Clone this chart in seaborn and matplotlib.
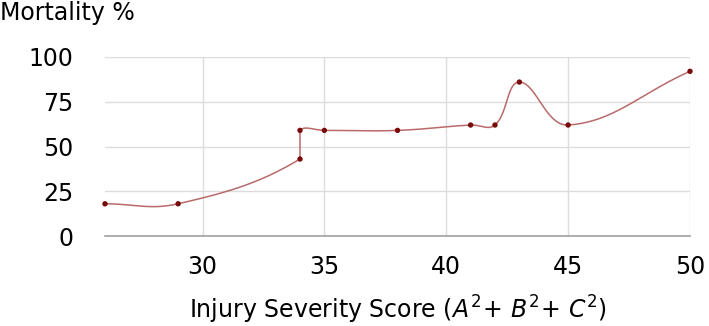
import numpy as np
import matplotlib
matplotlib.use("Agg")
import matplotlib.pyplot as plt
import seaborn as sns

# values
iss = [26, 29, 34, 34, 35, 38, 41, 42, 43, 45, 50]
mortality = [18, 18, 43, 59, 59, 59, 62, 62, 86, 62, 92]
x_ticks = [30, 35, 40, 45, 50]
y_ticks = [0, 25, 50, 75, 100]


def spline_path(xs, ys, sx, sy, tension=0.4, steps=40):
    """
    Smooth curve through the points (Chart.js style control points),
    computed in pixel-like units so the shape matches the chart aspect.
    Segments with the same x are drawn straight.
    """
    P = np.column_stack([np.asarray(xs, float) * sx, np.asarray(ys, float) * sy])
    n = len(P)
    cp_prev = P.copy()
    cp_next = P.copy()
    for i in range(n):
        prev = P[i - 1] if i > 0 else P[i]
        nxt = P[i + 1] if i < n - 1 else P[i]
        d01 = np.hypot(*(P[i] - prev))
        d12 = np.hypot(*(nxt - P[i]))
        tot = d01 + d12
        s01 = d01 / tot if tot else 0
        s12 = d12 / tot if tot else 0
        cp_prev[i] = P[i] - tension * s01 * (nxt - prev)
        cp_next[i] = P[i] + tension * s12 * (nxt - prev)
    t = np.linspace(0, 1, steps)[:, None]
    segs = []
    for i in range(n - 1):
        if xs[i] == xs[i + 1]:
            segs.append(P[i] + t * (P[i + 1] - P[i]))
            continue
        b = ((1 - t) ** 3 * P[i] + 3 * (1 - t) ** 2 * t * cp_next[i]
             + 3 * (1 - t) * t ** 2 * cp_prev[i + 1] + t ** 3 * P[i + 1])
        segs.append(b)
    path = np.vstack(segs)
    return path[:, 0] / sx, path[:, 1] / sy


sns.set_style("white")
plt.rcParams['font.family'] = ['DejaVu Sans']
plt.rcParams['mathtext.fontset'] = 'dejavusans'
plt.rcParams['text.color'] = 'black'
plt.rcParams['axes.labelcolor'] = 'black'

fig = plt.figure(figsize=(7.09, 3.26), dpi=100)
ax = fig.add_axes([105 / 709, 1 - 236 / 326, 585 / 709, 179 / 326])

ax.set_xlim(26, 50)
ax.set_ylim(0, 100)

# pixel scale per data unit
sx = 585 / 24
sy = 179 / 100
cx, cy = spline_path(iss, mortality, sx, sy)

sns.lineplot(x=cx, y=cy, sort=False, estimator=None, ax=ax,
             color='#b96a6a', lw=1.1, zorder=3)
sns.scatterplot(x=iss, y=mortality, ax=ax, color='#7a0a0a', s=15,
                edgecolor='none', zorder=4, clip_on=False)

ax.set_xticks(x_ticks)
ax.set_yticks(y_ticks)
ax.grid(True, color='#dcdcdc', lw=1)
ax.set_axisbelow(True)
for side in ['top', 'left', 'right']:
    ax.spines[side].set_visible(False)
ax.spines['bottom'].set_color('#a0a0a0')
ax.spines['bottom'].set_linewidth(1.2)

ax.tick_params(axis='y', length=0, pad=23, labelsize=17, colors='black')
ax.tick_params(axis='x', length=0, pad=14, labelsize=17, colors='black')

ax.set_xlabel(r"Injury Severity Score $\mathit{(}A^2\!+\,B^2\!+\,C^2\mathit{)}$",
              fontsize=17, labelpad=10)
ax.set_ylabel('')
fig.text(0.0, 1 - 13 / 326, 'Mortality %', fontsize=17, ha='left', va='center')

plt.savefig('out.png', dpi=100)
plt.close()
